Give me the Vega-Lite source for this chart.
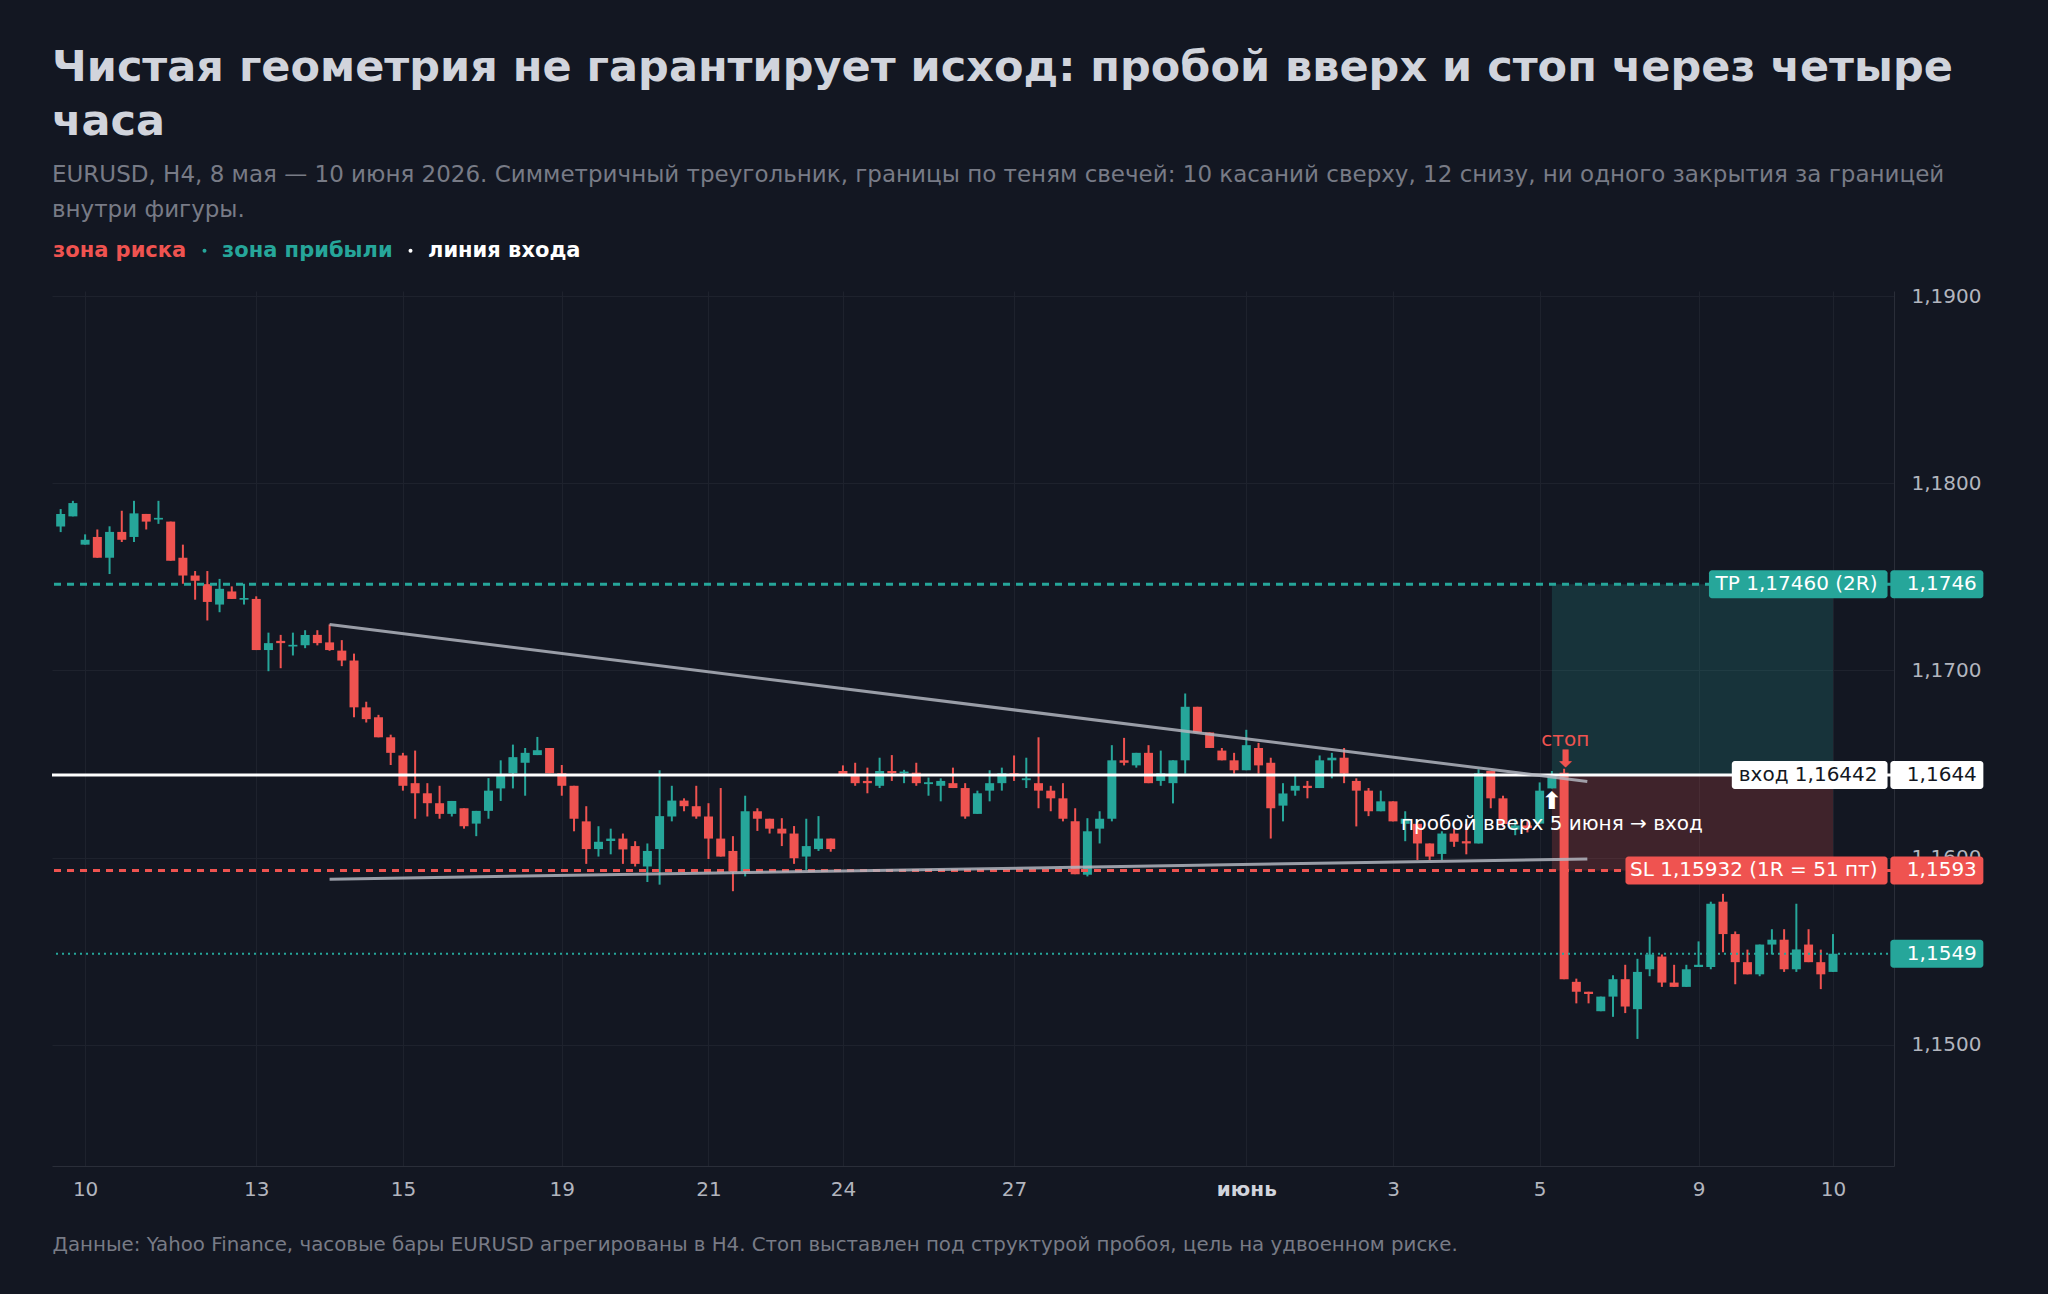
{
  "$schema": "https://vega.github.io/schema/vega-lite/v6.json",
  "autosize": {"type": "none"},
  "width": 1842,
  "height": 875,
  "padding": {"left": 52, "top": 291, "right": 154, "bottom": 128},
  "background": "#131722",
  "title": {
    "text": ["Чистая геометрия не гарантирует исход: пробой вверх и стоп через четыре", "часа"],
    "subtitle": ["EURUSD, H4, 8 мая — 10 июня 2026. Симметричный треугольник, границы по теням свечей: 10 касаний сверху, 12 снизу, ни одного закрытия за границей", "внутри фигуры."],
    "anchor": "start",
    "frame": "group",
    "offset": 18,
    "font": "DejaVu Sans",
    "fontSize": 43,
    "fontWeight": "bold",
    "color": "#d1d4dc",
    "lineHeight": 54,
    "subtitleFont": "DejaVu Sans",
    "subtitleFontSize": 23,
    "subtitleColor": "#787b86",
    "subtitleLineHeight": 35,
    "subtitlePadding": 20
  },
  "datasets": {
    "bars": [
      {"i": 0, "o": 1.17769, "h": 1.17862, "l": 1.17739, "c": 1.17836},
      {"i": 1, "o": 1.17823, "h": 1.17906, "l": 1.17823, "c": 1.17894},
      {"i": 2, "o": 1.17672, "h": 1.17727, "l": 1.17672, "c": 1.17698},
      {"i": 3, "o": 1.17713, "h": 1.17753, "l": 1.17602, "c": 1.17602},
      {"i": 4, "o": 1.17602, "h": 1.1777, "l": 1.17515, "c": 1.1774},
      {"i": 5, "o": 1.1774, "h": 1.17853, "l": 1.17686, "c": 1.17698},
      {"i": 6, "o": 1.17713, "h": 1.17906, "l": 1.17686, "c": 1.17839},
      {"i": 7, "o": 1.17836, "h": 1.17836, "l": 1.17753, "c": 1.17795},
      {"i": 8, "o": 1.17806, "h": 1.17906, "l": 1.17783, "c": 1.17815},
      {"i": 9, "o": 1.17795, "h": 1.17795, "l": 1.17586, "c": 1.17586},
      {"i": 10, "o": 1.17602, "h": 1.17672, "l": 1.17463, "c": 1.17507},
      {"i": 11, "o": 1.17507, "h": 1.17531, "l": 1.17378, "c": 1.17479},
      {"i": 12, "o": 1.17461, "h": 1.17531, "l": 1.17267, "c": 1.17366},
      {"i": 13, "o": 1.17352, "h": 1.17489, "l": 1.17311, "c": 1.17436},
      {"i": 14, "o": 1.17422, "h": 1.17449, "l": 1.17382, "c": 1.17382},
      {"i": 15, "o": 1.17378, "h": 1.17463, "l": 1.17352, "c": 1.17387},
      {"i": 16, "o": 1.17382, "h": 1.17396, "l": 1.17109, "c": 1.17109},
      {"i": 17, "o": 1.17109, "h": 1.17202, "l": 1.16996, "c": 1.17146},
      {"i": 18, "o": 1.17158, "h": 1.1719, "l": 1.17012, "c": 1.17146},
      {"i": 19, "o": 1.17128, "h": 1.17202, "l": 1.1708, "c": 1.17137},
      {"i": 20, "o": 1.17134, "h": 1.17215, "l": 1.17119, "c": 1.1719},
      {"i": 21, "o": 1.1719, "h": 1.17215, "l": 1.17134, "c": 1.17146},
      {"i": 22, "o": 1.1715, "h": 1.17246, "l": 1.17105, "c": 1.17109},
      {"i": 23, "o": 1.17106, "h": 1.17162, "l": 1.17023, "c": 1.17053},
      {"i": 24, "o": 1.17053, "h": 1.1709, "l": 1.1675, "c": 1.16803},
      {"i": 25, "o": 1.16803, "h": 1.16833, "l": 1.16722, "c": 1.1674},
      {"i": 26, "o": 1.1675, "h": 1.16763, "l": 1.16643, "c": 1.16643},
      {"i": 27, "o": 1.16643, "h": 1.16657, "l": 1.16495, "c": 1.1656},
      {"i": 28, "o": 1.16546, "h": 1.1656, "l": 1.16358, "c": 1.16384},
      {"i": 29, "o": 1.16398, "h": 1.16572, "l": 1.16208, "c": 1.16344},
      {"i": 30, "o": 1.16344, "h": 1.16398, "l": 1.1622, "c": 1.16291},
      {"i": 31, "o": 1.16291, "h": 1.16384, "l": 1.16208, "c": 1.16234},
      {"i": 32, "o": 1.16234, "h": 1.16303, "l": 1.1622, "c": 1.16303},
      {"i": 33, "o": 1.16264, "h": 1.16264, "l": 1.16155, "c": 1.16168},
      {"i": 34, "o": 1.16182, "h": 1.1625, "l": 1.16115, "c": 1.1625},
      {"i": 35, "o": 1.1625, "h": 1.16425, "l": 1.16208, "c": 1.16358},
      {"i": 36, "o": 1.1637, "h": 1.1652, "l": 1.16303, "c": 1.16437},
      {"i": 37, "o": 1.16451, "h": 1.16604, "l": 1.1637, "c": 1.16537},
      {"i": 38, "o": 1.16507, "h": 1.16586, "l": 1.16331, "c": 1.1656},
      {"i": 39, "o": 1.16548, "h": 1.16645, "l": 1.16548, "c": 1.16574},
      {"i": 40, "o": 1.16586, "h": 1.16586, "l": 1.16451, "c": 1.16451},
      {"i": 41, "o": 1.16451, "h": 1.16495, "l": 1.16331, "c": 1.16384},
      {"i": 42, "o": 1.16384, "h": 1.16384, "l": 1.16141, "c": 1.16208},
      {"i": 43, "o": 1.16194, "h": 1.16275, "l": 1.15967, "c": 1.16046},
      {"i": 44, "o": 1.16046, "h": 1.16168, "l": 1.16006, "c": 1.16085},
      {"i": 45, "o": 1.16089, "h": 1.16155, "l": 1.16018, "c": 1.16102},
      {"i": 46, "o": 1.16102, "h": 1.16129, "l": 1.15967, "c": 1.16044},
      {"i": 47, "o": 1.16062, "h": 1.16088, "l": 1.15953, "c": 1.15967},
      {"i": 48, "o": 1.15953, "h": 1.16076, "l": 1.1587, "c": 1.16036},
      {"i": 49, "o": 1.16046, "h": 1.16467, "l": 1.15856, "c": 1.16222},
      {"i": 50, "o": 1.1622, "h": 1.16384, "l": 1.16194, "c": 1.16305},
      {"i": 51, "o": 1.16305, "h": 1.16317, "l": 1.16248, "c": 1.16275},
      {"i": 52, "o": 1.16275, "h": 1.16384, "l": 1.16208, "c": 1.1622},
      {"i": 53, "o": 1.1622, "h": 1.16291, "l": 1.15993, "c": 1.16102},
      {"i": 54, "o": 1.16102, "h": 1.16372, "l": 1.16006, "c": 1.16006},
      {"i": 55, "o": 1.16036, "h": 1.16115, "l": 1.15821, "c": 1.15926},
      {"i": 56, "o": 1.15926, "h": 1.16331, "l": 1.159, "c": 1.16248},
      {"i": 57, "o": 1.16248, "h": 1.16264, "l": 1.16143, "c": 1.16208},
      {"i": 58, "o": 1.16208, "h": 1.16208, "l": 1.16129, "c": 1.16155},
      {"i": 59, "o": 1.16155, "h": 1.16211, "l": 1.16062, "c": 1.16129},
      {"i": 60, "o": 1.16129, "h": 1.16169, "l": 1.15967, "c": 1.15997},
      {"i": 61, "o": 1.16006, "h": 1.16208, "l": 1.15935, "c": 1.16062},
      {"i": 62, "o": 1.16046, "h": 1.16222, "l": 1.16036, "c": 1.16102},
      {"i": 63, "o": 1.16102, "h": 1.16102, "l": 1.16032, "c": 1.16046},
      {"i": 64, "o": 1.16463, "h": 1.16493, "l": 1.16446, "c": 1.16446},
      {"i": 65, "o": 1.16437, "h": 1.16507, "l": 1.16384, "c": 1.16398},
      {"i": 66, "o": 1.1641, "h": 1.16481, "l": 1.16344, "c": 1.16398},
      {"i": 67, "o": 1.16384, "h": 1.16534, "l": 1.16372, "c": 1.16463},
      {"i": 68, "o": 1.16463, "h": 1.16548, "l": 1.1641, "c": 1.16451},
      {"i": 69, "o": 1.16451, "h": 1.16469, "l": 1.16398, "c": 1.1646},
      {"i": 70, "o": 1.16454, "h": 1.16507, "l": 1.16384, "c": 1.16398},
      {"i": 71, "o": 1.16393, "h": 1.16428, "l": 1.16331, "c": 1.16403},
      {"i": 72, "o": 1.16384, "h": 1.16424, "l": 1.16301, "c": 1.1641},
      {"i": 73, "o": 1.16398, "h": 1.16481, "l": 1.16372, "c": 1.16372},
      {"i": 74, "o": 1.16372, "h": 1.16398, "l": 1.16208, "c": 1.1622},
      {"i": 75, "o": 1.16234, "h": 1.16358, "l": 1.16234, "c": 1.16344},
      {"i": 76, "o": 1.16358, "h": 1.16467, "l": 1.16301, "c": 1.16398},
      {"i": 77, "o": 1.16398, "h": 1.16481, "l": 1.16358, "c": 1.16451},
      {"i": 78, "o": 1.16451, "h": 1.16546, "l": 1.1641, "c": 1.16437},
      {"i": 79, "o": 1.16414, "h": 1.16534, "l": 1.16372, "c": 1.16424},
      {"i": 80, "o": 1.16398, "h": 1.16643, "l": 1.16264, "c": 1.16358},
      {"i": 81, "o": 1.16358, "h": 1.16384, "l": 1.16248, "c": 1.16317},
      {"i": 82, "o": 1.16317, "h": 1.16398, "l": 1.16194, "c": 1.16208},
      {"i": 83, "o": 1.16194, "h": 1.16264, "l": 1.15912, "c": 1.15912},
      {"i": 84, "o": 1.15909, "h": 1.16211, "l": 1.159, "c": 1.16141},
      {"i": 85, "o": 1.16155, "h": 1.16248, "l": 1.16076, "c": 1.16208},
      {"i": 86, "o": 1.16208, "h": 1.16601, "l": 1.16194, "c": 1.1652},
      {"i": 87, "o": 1.1652, "h": 1.1664, "l": 1.16493, "c": 1.16507},
      {"i": 88, "o": 1.16493, "h": 1.1656, "l": 1.16481, "c": 1.1656},
      {"i": 89, "o": 1.1656, "h": 1.16601, "l": 1.16398, "c": 1.16398},
      {"i": 90, "o": 1.1641, "h": 1.16572, "l": 1.16384, "c": 1.16451},
      {"i": 91, "o": 1.16398, "h": 1.1652, "l": 1.1629, "c": 1.1652},
      {"i": 92, "o": 1.1652, "h": 1.16877, "l": 1.16449, "c": 1.16806},
      {"i": 93, "o": 1.16806, "h": 1.16806, "l": 1.16669, "c": 1.16669},
      {"i": 94, "o": 1.16669, "h": 1.16669, "l": 1.16586, "c": 1.16586},
      {"i": 95, "o": 1.16572, "h": 1.16586, "l": 1.1652, "c": 1.1652},
      {"i": 96, "o": 1.1652, "h": 1.1656, "l": 1.16449, "c": 1.16467},
      {"i": 97, "o": 1.16467, "h": 1.16683, "l": 1.16467, "c": 1.16601},
      {"i": 98, "o": 1.16586, "h": 1.16613, "l": 1.16449, "c": 1.16493},
      {"i": 99, "o": 1.16507, "h": 1.16534, "l": 1.16102, "c": 1.16264},
      {"i": 100, "o": 1.16278, "h": 1.16398, "l": 1.16194, "c": 1.16343},
      {"i": 101, "o": 1.16358, "h": 1.16437, "l": 1.16331, "c": 1.16384},
      {"i": 102, "o": 1.16384, "h": 1.1641, "l": 1.16317, "c": 1.16372},
      {"i": 103, "o": 1.16372, "h": 1.16546, "l": 1.16372, "c": 1.1652},
      {"i": 104, "o": 1.1652, "h": 1.1656, "l": 1.16424, "c": 1.16534},
      {"i": 105, "o": 1.16534, "h": 1.16586, "l": 1.16398, "c": 1.16449},
      {"i": 106, "o": 1.1641, "h": 1.16424, "l": 1.16167, "c": 1.16358},
      {"i": 107, "o": 1.16358, "h": 1.16372, "l": 1.16222, "c": 1.16248},
      {"i": 108, "o": 1.16248, "h": 1.16358, "l": 1.16248, "c": 1.16301},
      {"i": 109, "o": 1.16301, "h": 1.16301, "l": 1.16194, "c": 1.16194},
      {"i": 110, "o": 1.16181, "h": 1.16248, "l": 1.16088, "c": 1.16208},
      {"i": 111, "o": 1.16181, "h": 1.16181, "l": 1.15988, "c": 1.16076},
      {"i": 112, "o": 1.16076, "h": 1.16076, "l": 1.15988, "c": 1.16006},
      {"i": 113, "o": 1.1602, "h": 1.16141, "l": 1.15988, "c": 1.16129},
      {"i": 114, "o": 1.16129, "h": 1.16155, "l": 1.16058, "c": 1.16085},
      {"i": 115, "o": 1.16088, "h": 1.16181, "l": 1.16018, "c": 1.16076},
      {"i": 116, "o": 1.16076, "h": 1.16472, "l": 1.16076, "c": 1.16451},
      {"i": 117, "o": 1.16463, "h": 1.16463, "l": 1.16264, "c": 1.16317},
      {"i": 118, "o": 1.16317, "h": 1.16331, "l": 1.16164, "c": 1.1618},
      {"i": 119, "o": 1.1615, "h": 1.16208, "l": 1.1612, "c": 1.16172},
      {"i": 120, "o": 1.16172, "h": 1.16195, "l": 1.16135, "c": 1.16158},
      {"i": 121, "o": 1.16182, "h": 1.16402, "l": 1.16182, "c": 1.16358},
      {"i": 122, "o": 1.1637, "h": 1.16463, "l": 1.1637, "c": 1.16435},
      {"i": 123, "o": 1.16454, "h": 1.16475, "l": 1.15351, "c": 1.15351},
      {"i": 124, "o": 1.15337, "h": 1.15354, "l": 1.15222, "c": 1.15284},
      {"i": 125, "o": 1.15284, "h": 1.15284, "l": 1.15222, "c": 1.15272},
      {"i": 126, "o": 1.1518, "h": 1.15258, "l": 1.1518, "c": 1.15258},
      {"i": 127, "o": 1.15258, "h": 1.15372, "l": 1.1515, "c": 1.15351},
      {"i": 128, "o": 1.15351, "h": 1.15428, "l": 1.1517, "c": 1.15205},
      {"i": 129, "o": 1.15191, "h": 1.1546, "l": 1.15032, "c": 1.1539},
      {"i": 130, "o": 1.15404, "h": 1.15578, "l": 1.15367, "c": 1.15483},
      {"i": 131, "o": 1.15472, "h": 1.15483, "l": 1.1531, "c": 1.15333},
      {"i": 132, "o": 1.15333, "h": 1.15428, "l": 1.1531, "c": 1.1531},
      {"i": 133, "o": 1.1531, "h": 1.15428, "l": 1.1531, "c": 1.15404},
      {"i": 134, "o": 1.15416, "h": 1.15553, "l": 1.15416, "c": 1.15428},
      {"i": 135, "o": 1.15416, "h": 1.15765, "l": 1.15404, "c": 1.15754},
      {"i": 136, "o": 1.15765, "h": 1.15807, "l": 1.15495, "c": 1.15592},
      {"i": 137, "o": 1.15592, "h": 1.15606, "l": 1.15324, "c": 1.15442},
      {"i": 138, "o": 1.15442, "h": 1.15509, "l": 1.15377, "c": 1.15377},
      {"i": 139, "o": 1.15377, "h": 1.15536, "l": 1.15367, "c": 1.15536},
      {"i": 140, "o": 1.15536, "h": 1.15618, "l": 1.15483, "c": 1.15562},
      {"i": 141, "o": 1.15562, "h": 1.15618, "l": 1.1539, "c": 1.15404},
      {"i": 142, "o": 1.15404, "h": 1.15754, "l": 1.1539, "c": 1.1551},
      {"i": 143, "o": 1.15536, "h": 1.15618, "l": 1.15442, "c": 1.15442},
      {"i": 144, "o": 1.15442, "h": 1.15509, "l": 1.15298, "c": 1.15377},
      {"i": 145, "o": 1.1539, "h": 1.15592, "l": 1.1539, "c": 1.15487}
    ],
    "zones": [
      {"kind": "зона риска", "x0": 122, "x1": 145, "p0": 1.15932, "p1": 1.16442},
      {"kind": "зона прибыли", "x0": 122, "x1": 145, "p0": 1.16442, "p1": 1.1746}
    ],
    "levels": [
      {"kind": "tp", "price": 1.1746, "label": "TP 1,17460 (2R)", "tag": "1,1746"},
      {"kind": "entry", "price": 1.16442, "label": "вход 1,16442", "tag": "1,1644"},
      {"kind": "sl", "price": 1.15932, "label": "SL 1,15932 (1R = 51 пт)", "tag": "1,1593"},
      {"kind": "last", "price": 1.15487, "label": "", "tag": "1,1549"}
    ],
    "tri": [
      {"line": "upper", "i": 22, "p": 1.17246},
      {"line": "upper", "i": 124.9, "p": 1.16407},
      {"line": "lower", "i": 22, "p": 1.15885},
      {"line": "lower", "i": 124.9, "p": 1.15993}
    ],
    "notes": [
      {"kind": "stop", "i": 123.1, "p": 1.16627, "txt": "стоп", "size": "text"},
      {"kind": "stop", "i": 123.1, "p": 1.16522, "txt": "⬇", "size": "arrow"},
      {"kind": "entry", "i": 122, "p": 1.16298, "txt": "⬆", "size": "arrow"},
      {"kind": "entry", "i": 122, "p": 1.1618, "txt": "пробой вверх 5 июня → вход", "size": "text"}
    ]
  },
  "layer": [
    {
      "data": {"name": "zones"},
      "mark": {"type": "rect", "opacity": 0.2},
      "encoding": {
        "x": {
          "field": "x0",
          "type": "quantitative",
          "scale": {"domain": [-0.3, 149.58], "nice": false, "zero": false},
          "axis": {
            "title": "Данные: Yahoo Finance, часовые бары EURUSD агрегированы в H4. Стоп выставлен под структурой пробоя, цель на удвоенном риске.",
            "values": [2, 16, 28, 41, 53, 64, 78, 97, 109, 121, 134, 145],
            "labelExpr": "['10','13','15','19','21','24','27','июнь','3','5','9','10'][indexof([2,16,28,41,53,64,78,97,109,121,134,145], datum.value)]",
            "labelColor": {"condition": {"test": "datum.value === 97", "value": "#d1d4dc"}, "value": "#b2b5be"},
            "labelFontWeight": {"condition": {"test": "datum.value === 97", "value": "bold"}, "value": "normal"},
            "labelFontSize": 20,
            "labelPadding": 13,
            "labelOverlap": false,
            "labelFlush": false,
            "tickSize": 0,
            "domainColor": "#2a2e39",
            "grid": true,
            "gridColor": "#1e222d",
            "titleAnchor": "start",
            "titleAlign": "left",
            "titleX": 0,
            "titleY": 84,
            "titleBaseline": "alphabetic",
            "titleFontSize": 19.8,
            "titleFontWeight": "normal",
            "titleColor": "#787b86"
          }
        },
        "x2": {"field": "x1"},
        "y": {
          "field": "p0",
          "type": "quantitative",
          "scale": {"domain": [1.1438, 1.19], "nice": false, "zero": false},
          "axis": {
            "orient": "right",
            "title": null,
            "values": [1.15, 1.16, 1.17, 1.18, 1.19],
            "labelExpr": "replace(format(datum.value, '.4f'), '.', ',')",
            "labelFontSize": 20,
            "labelColor": "#b2b5be",
            "labelPadding": 17,
            "labelOverlap": false,
            "tickSize": 0,
            "domainColor": "#2a2e39",
            "grid": true,
            "gridColor": "#1e222d"
          }
        },
        "y2": {"field": "p1"},
        "color": {
          "field": "kind",
          "type": "nominal",
          "scale": {"domain": ["зона риска", "зона прибыли", "линия входа"], "range": ["#ef5350", "#26a69a", "#ffffff"]},
          "legend": {
            "orient": "none",
            "legendX": -27,
            "legendY": -51,
            "direction": "horizontal",
            "title": null,
            "symbolType": "circle",
            "symbolSize": 16,
            "symbolStrokeWidth": 0,
            "symbolFillColor": "#5d606b",
            "symbolStrokeColor": "#5d606b",
            "labelFont": "DejaVu Sans",
            "labelFontSize": 21,
            "labelFontWeight": "bold",
            "labelColor": "#ffffff",
            "labelOffset": 7,
            "columnPadding": 7,
            "padding": 0,
            "labelLimit": 0,
            "encoding": {
              "labels": {
                "fill": {"value": {"expr": "datum.value == 'зона риска' ? '#ef5350' : datum.value == 'зона прибыли' ? '#26a69a' : '#ffffff'"}}
              },
              "symbols": {
                "fill": {"value": {"expr": "'#5d606b'"}},
                "stroke": {"value": {"expr": "'#5d606b'"}},
                "strokeWidth": {"value": 0},
                "opacity": {"value": {"expr": "datum.value == 'зона риска' ? 0 : 1"}}
              }
            }
          }
        }
      }
    },
    {
      "data": {"name": "bars"},
      "mark": {"type": "rule", "strokeWidth": 2},
      "encoding": {
        "x": {"field": "i", "type": "quantitative"},
        "y": {"field": "l", "type": "quantitative"},
        "y2": {"field": "h"},
        "color": {"condition": {"test": "datum.c >= datum.o", "value": "#26a69a"}, "value": "#ef5350"}
      }
    },
    {
      "data": {"name": "bars"},
      "mark": {"type": "bar", "size": 9},
      "encoding": {
        "x": {"field": "i", "type": "quantitative"},
        "y": {"field": "o", "type": "quantitative"},
        "y2": {"field": "c"},
        "color": {"condition": {"test": "datum.c >= datum.o", "value": "#26a69a"}, "value": "#ef5350"}
      }
    },
    {
      "data": {"name": "levels"},
      "transform": [{"filter": "datum.kind === 'tp'"}],
      "mark": {"type": "rule", "color": "#26a69a", "strokeWidth": 3, "strokeDash": [7, 6]},
      "encoding": {"y": {"field": "price", "type": "quantitative"}}
    },
    {
      "data": {"name": "levels"},
      "transform": [{"filter": "datum.kind === 'sl'"}],
      "mark": {"type": "rule", "color": "#ef5350", "strokeWidth": 3, "strokeDash": [7, 6]},
      "encoding": {"y": {"field": "price", "type": "quantitative"}}
    },
    {
      "data": {"name": "levels"},
      "transform": [{"filter": "datum.kind === 'last'"}],
      "mark": {"type": "rule", "color": "#26a69a", "strokeWidth": 2, "strokeDash": [2, 4]},
      "encoding": {"y": {"field": "price", "type": "quantitative"}}
    },
    {
      "data": {"name": "levels"},
      "transform": [{"filter": "datum.kind === 'entry'"}],
      "mark": {"type": "rule", "color": "#ffffff", "strokeWidth": 3},
      "encoding": {"y": {"field": "price", "type": "quantitative"}}
    },
    {
      "data": {"name": "tri"},
      "mark": {"type": "line", "color": "#b2b5be", "strokeWidth": 3, "opacity": 0.85},
      "encoding": {
        "x": {"field": "i", "type": "quantitative"},
        "y": {"field": "p", "type": "quantitative"},
        "detail": {"field": "line"}
      }
    },
    {
      "data": {"name": "notes"},
      "transform": [{"filter": "datum.size === 'text'"}],
      "mark": {"type": "text", "fontSize": 20, "baseline": "middle"},
      "encoding": {
        "x": {"field": "i", "type": "quantitative"},
        "y": {"field": "p", "type": "quantitative"},
        "text": {"field": "txt"},
        "color": {"condition": {"test": "datum.kind === 'stop'", "value": "#ef5350"}, "value": "#ffffff"}
      }
    },
    {
      "data": {"name": "notes"},
      "transform": [{"filter": "datum.size === 'arrow'"}],
      "mark": {"type": "text", "fontSize": 24, "fontWeight": "bold", "baseline": "middle"},
      "encoding": {
        "x": {"field": "i", "type": "quantitative"},
        "y": {"field": "p", "type": "quantitative"},
        "text": {"field": "txt"},
        "color": {"condition": {"test": "datum.kind === 'stop'", "value": "#ef5350"}, "value": "#ffffff"}
      }
    },
    {
      "data": {"name": "levels"},
      "transform": [{"filter": "datum.kind === 'tp'"}],
      "mark": {"type": "bar", "orient": "horizontal", "size": 28, "cornerRadius": 3, "color": "#26a69a", "clip": false},
      "encoding": {
        "x": {"datum": 134.85, "type": "quantitative"},
        "x2": {"datum": 149.46},
        "y": {"field": "price", "type": "quantitative"}
      }
    },
    {
      "data": {"name": "levels"},
      "transform": [{"filter": "datum.kind === 'entry'"}],
      "mark": {"type": "bar", "orient": "horizontal", "size": 28, "cornerRadius": 3, "color": "#ffffff", "clip": false},
      "encoding": {
        "x": {"datum": 136.72, "type": "quantitative"},
        "x2": {"datum": 149.46},
        "y": {"field": "price", "type": "quantitative"}
      }
    },
    {
      "data": {"name": "levels"},
      "transform": [{"filter": "datum.kind === 'sl'"}],
      "mark": {"type": "bar", "orient": "horizontal", "size": 28, "cornerRadius": 3, "color": "#ef5350", "clip": false},
      "encoding": {
        "x": {"datum": 128.02, "type": "quantitative"},
        "x2": {"datum": 149.46},
        "y": {"field": "price", "type": "quantitative"}
      }
    },
    {
      "data": {"name": "levels"},
      "transform": [{"filter": "datum.label !== ''"}],
      "mark": {"type": "text", "align": "right", "baseline": "middle", "dx": -10, "fontSize": 20, "clip": false},
      "encoding": {
        "x": {"datum": 149.46, "type": "quantitative"},
        "y": {"field": "price", "type": "quantitative"},
        "text": {"field": "label"},
        "color": {"condition": {"test": "datum.kind === 'entry'", "value": "#131722"}, "value": "#ffffff"}
      }
    },
    {
      "data": {"name": "levels"},
      "mark": {"type": "bar", "orient": "horizontal", "size": 28, "cornerRadius": 3, "clip": false},
      "encoding": {
        "x": {"datum": 149.69, "type": "quantitative"},
        "x2": {"datum": 157.3},
        "y": {"field": "price", "type": "quantitative"},
        "color": {"condition": [{"test": "datum.kind === 'entry'", "value": "#ffffff"}, {"test": "datum.kind === 'sl'", "value": "#ef5350"}], "value": "#26a69a"}
      }
    },
    {
      "data": {"name": "levels"},
      "mark": {"type": "text", "align": "left", "baseline": "middle", "dx": 16.5, "fontSize": 20, "clip": false},
      "encoding": {
        "x": {"datum": 149.69, "type": "quantitative"},
        "y": {"field": "price", "type": "quantitative"},
        "text": {"field": "tag"},
        "color": {"condition": {"test": "datum.kind === 'entry'", "value": "#131722"}, "value": "#ffffff"}
      }
    }
  ],
  "config": {
    "font": "DejaVu Sans",
    "view": {"stroke": null},
    "axis": {"labelFont": "DejaVu Sans", "titleFont": "DejaVu Sans"}
  }
}
